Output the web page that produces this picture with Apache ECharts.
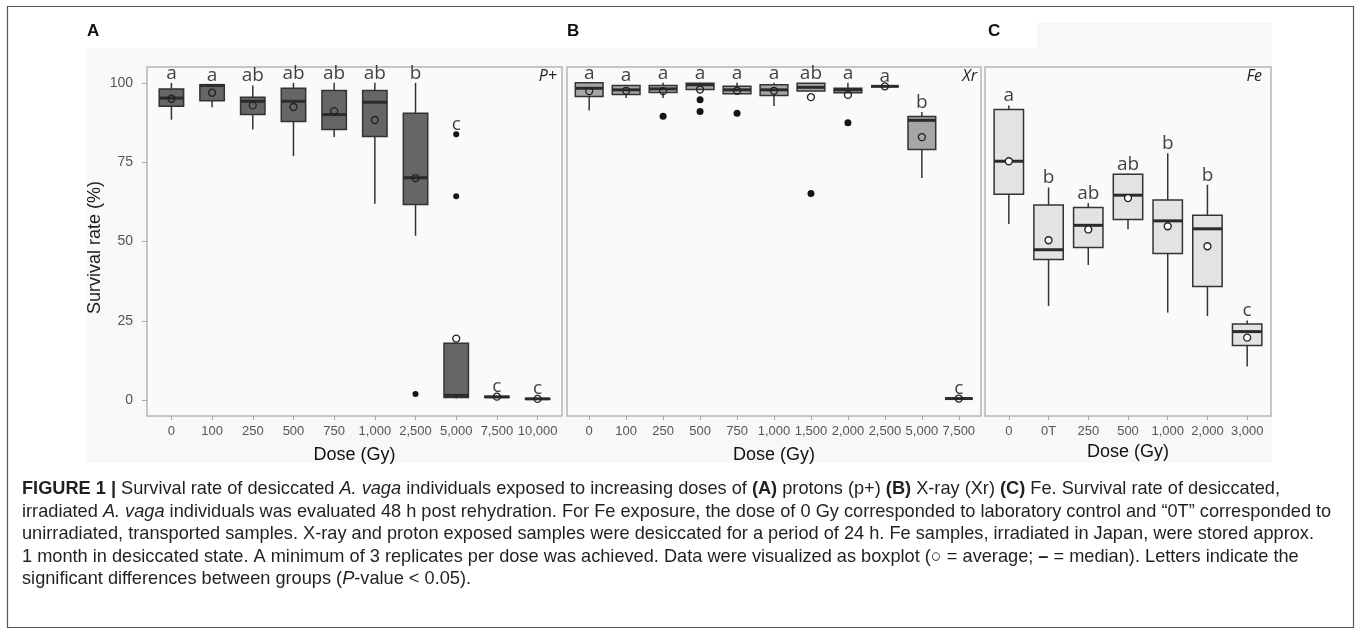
<!DOCTYPE html>
<html>
<head>
<meta charset="utf-8">
<script src="https://cdn.jsdelivr.net/npm/echarts@6.0.0/dist/echarts.min.js"></script>
<style>
  html, body { margin: 0; padding: 0; background: #ffffff; }
  #chart { width: 1357px; height: 633px; }
</style>
</head>
<body>
<div id="chart"></div>
<script>
// ---- data ----
// box rows: [lower whisker, Q1, median, Q3, upper whisker]
const dosesA = ['0', '100', '250', '500', '750', '1,000', '2,500', '5,000', '7,500', '10,000'];
const boxesA = [
  [88.4, 92.6, 95.2, 98.1, 100],
  [92.3, 94.4, 99.2, 99.4, 99.4],
  [85.3, 90.0, 94.2, 95.5, 99.2],
  [76.9, 87.8, 94.2, 98.3, 100],
  [82.9, 85.3, 90.0, 97.6, 100],
  [61.9, 83.1, 93.9, 97.6, 100],
  [51.8, 61.7, 70.1, 90.4, 100],
  [0.5, 0.8, 1.5, 17.9, 17.9],
  [0.8, 0.9, 1.0, 1.2, 1.3],
  [0.2, 0.3, 0.4, 0.5, 0.6]
];
const meansA = [95.0, 96.9, 92.9, 92.4, 91.1, 88.3, 70.0, 19.4, 1.1, 0.4];
const outliersA = [[6, 1.9], [7, 83.8], [7, 64.3]];
const lettersA = ['a', 'a', 'ab', 'ab', 'ab', 'ab', 'b', 'c', 'c', 'c'];

const dosesB = ['0', '100', '250', '500', '750', '1,000', '1,500', '2,000', '2,500', '5,000', '7,500'];
const boxesB = [
  [91.3, 95.7, 98.3, 100, 100],
  [95.2, 96.3, 97.8, 99.2, 99.2],
  [95.2, 97.0, 98.1, 99.2, 100],
  [97.9, 97.9, 99.4, 99.9, 100],
  [96.6, 96.6, 97.8, 98.9, 100],
  [92.7, 96.0, 97.8, 99.4, 100],
  [97.4, 97.4, 98.6, 99.9, 99.9],
  [96.9, 96.9, 97.8, 98.3, 100],
  [98.9, 98.9, 98.9, 98.9, 98.9],
  [70.0, 79.0, 88.2, 89.4, 90.8],
  [0.5, 0.5, 0.5, 0.5, 0.5]
];
const meansB = [97.4, 97.5, 97.4, 97.9, 97.5, 97.5, 95.5, 96.2, 98.9, 82.9, 0.5];
const outliersB = [[2, 89.5], [3, 94.7], [3, 91.0], [4, 90.4], [6, 65.1], [7, 87.4]];
const lettersB = ['a', 'a', 'a', 'a', 'a', 'a', 'ab', 'a', 'a', 'b', 'c'];

const dosesC = ['0', '0T', '250', '500', '1,000', '2,000', '3,000'];
const boxesC = [
  [55.5, 64.9, 75.3, 91.6, 92.9],
  [29.7, 44.3, 47.4, 61.5, 67.0],
  [42.6, 48.1, 55.1, 60.7, 62.1],
  [53.9, 56.9, 64.6, 71.2, 71.4],
  [27.6, 46.2, 56.5, 63.1, 77.8],
  [26.5, 35.8, 54.0, 58.3, 67.9],
  [10.6, 17.2, 21.6, 24.0, 25.1]
];
const meansC = [75.3, 50.4, 53.8, 63.7, 54.8, 48.5, 19.7];
const outliersC = [];
const lettersC = ['a', 'b', 'ab', 'ab', 'b', 'b', 'c'];

const yTicks = [0, 25, 50, 75, 100];

// ---- drawing ----
const axisFont = "'Liberation Sans', Arial, sans-serif";
const letterFont = "'Open Sans', 'Noto Sans', sans-serif";

const panels = [
  { doses: dosesA, boxes: boxesA, means: meansA, outliers: outliersA, letters: lettersA,
    grid: { left: 147, top: 67, width: 415, height: 349 }, boxW: 0.6, fill: '#666666',
    meanFill: 'rgba(0,0,0,0)', dot: 6, nameGap: 30 },
  { doses: dosesB, boxes: boxesB, means: meansB, outliers: outliersB, letters: lettersB,
    grid: { left: 567, top: 67, width: 414, height: 349 }, boxW: 0.75, fill: '#a6a6a6',
    meanFill: 'rgba(0,0,0,0)', dot: 7, nameGap: 30 },
  { doses: dosesC, boxes: boxesC, means: meansC, outliers: outliersC, letters: lettersC,
    grid: { left: 985, top: 67, width: 286, height: 349 }, boxW: 0.74, fill: '#e3e3e3',
    meanFill: '#ffffff', dot: 7, nameGap: 24 }
];

function boxRenderer(width, fill) {
  return function (params, api) {
    const x = api.value(0);
    const lo = api.coord([x, api.value(1)]);
    const q1 = api.coord([x, api.value(2)]);
    const md = api.coord([x, api.value(3)]);
    const q3 = api.coord([x, api.value(4)]);
    const hi = api.coord([x, api.value(5)]);
    const w = api.size([width, 0])[0];
    const stroke = '#333333';
    return {
      type: 'group',
      children: [
        { type: 'line', shape: { x1: lo[0], y1: lo[1], x2: q1[0], y2: q1[1] }, style: { stroke: stroke, lineWidth: 1.5 } },
        { type: 'line', shape: { x1: q3[0], y1: q3[1], x2: hi[0], y2: hi[1] }, style: { stroke: stroke, lineWidth: 1.5 } },
        { type: 'rect', shape: { x: q3[0] - w / 2, y: q3[1], width: w, height: q1[1] - q3[1] },
          style: { fill: fill, stroke: stroke, lineWidth: 1.5 } },
        { type: 'line', shape: { x1: md[0] - w / 2, y1: md[1], x2: md[0] + w / 2, y2: md[1] },
          style: { stroke: '#2b2b2b', lineWidth: 3 } }
      ]
    };
  };
}

const grids = [], xAxes = [], yAxes = [], series = [];
panels.forEach(function (p, k) {
  const n = p.doses.length;
  const idx = p.doses.map(function (d, i) { return i; });
  grids.push(Object.assign({ show: true, backgroundColor: '#fafafa', borderColor: '#b5b5b5', borderWidth: 1.5 }, p.grid));
  xAxes.push({
    type: 'value', gridIndex: k, min: -0.6, max: n - 0.4,
    axisLine: { show: false, onZero: false }, splitLine: { show: false },
    axisTick: { show: true, customValues: idx, length: 4, lineStyle: { color: '#a8a8a8' } },
    axisLabel: { customValues: idx, formatter: function (v) { return p.doses[Math.round(v)]; },
      margin: 9, fontSize: 13, color: '#555555', fontFamily: axisFont },
    name: 'Dose (Gy)', nameLocation: 'middle', nameGap: p.nameGap,
    nameTextStyle: { fontSize: 18, color: '#111111', fontFamily: axisFont }
  });
  yAxes.push({
    type: 'value', gridIndex: k, min: -5, max: 105, show: k === 0,
    axisLine: { show: false, onZero: false }, splitLine: { show: false },
    axisTick: { show: true, customValues: yTicks, length: 5, lineStyle: { color: '#a8a8a8' } },
    axisLabel: { customValues: yTicks, margin: 14, fontSize: 14, color: '#555555', fontFamily: axisFont },
    name: k === 0 ? 'Survival rate (%)' : '', nameLocation: 'middle', nameGap: 43, nameRotate: 90,
    nameTextStyle: { fontSize: 18, color: '#222222', fontFamily: axisFont, padding: [0, 12, 0, 0] }
  });

  series.push({
    type: 'custom', xAxisIndex: k, yAxisIndex: k,
    renderItem: boxRenderer(p.boxW, p.fill),
    encode: { x: 0, y: [1, 2, 3, 4, 5] },
    data: p.boxes.map(function (b, i) { return [i].concat(b); }),
    z: 2
  });
  series.push({
    type: 'scatter', xAxisIndex: k, yAxisIndex: k, symbolSize: p.dot,
    itemStyle: { color: '#151515', opacity: 1 },
    data: p.outliers, z: 3
  });
  series.push({
    type: 'scatter', xAxisIndex: k, yAxisIndex: k, symbolSize: 7,
    itemStyle: { color: p.meanFill, borderColor: '#222222', borderWidth: 1.3, opacity: 1 },
    data: p.means.map(function (m, i) { return [i, m]; }), z: 4
  });
  const tops = p.boxes.map(function (b, i) {
    let t = Math.max(b[4], p.means[i]);
    p.outliers.forEach(function (o) { if (o[0] === i) t = Math.max(t, o[1]); });
    return [i, t];
  });
  series.push({
    type: 'scatter', xAxisIndex: k, yAxisIndex: k, symbolSize: 0, silent: true,
    label: { show: true, position: 'top', distance: 0, fontSize: 19, color: '#111111', fontFamily: letterFont,
      formatter: function (prm) { return p.letters[prm.dataIndex]; } },
    data: tops, z: 5
  });
});

const capStyle = { fontSize: 18.2, fontFamily: axisFont, fill: '#231f20' };
const captionText = [
  '{b|FIGURE 1 |} Survival rate of desiccated {i|A. vaga} individuals exposed to increasing doses of {b|(A)} protons (p+) {b|(B)} X-ray (Xr) {b|(C)} Fe. Survival rate of desiccated,',
  'irradiated {i|A. vaga} individuals was evaluated 48 h post rehydration. For Fe exposure, the dose of 0 Gy corresponded to laboratory control and \u201c0T\u201d corresponded to',
  'unirradiated, transported samples. X-ray and proton exposed samples were desiccated for a period of 24 h. Fe samples, irradiated in Japan, were stored approx.',
  '1 month in desiccated state. A minimum of 3 replicates per dose was achieved. Data were visualized as boxplot (\u25CB = average; {b|\u2013} = median). Letters indicate the',
  'significant differences between groups ({i|P}-value < 0.05).'
].join('\n');

const chart = echarts.init(document.getElementById('chart'));
chart.setOption({
  animation: false,
  backgroundColor: '#ffffff',
  grid: grids,
  xAxis: xAxes,
  yAxis: yAxes,
  series: series,
  graphic: [
    { type: 'rect', z: -10, shape: { x: 87, y: 48, width: 1185, height: 415 }, style: { fill: '#f8f8f8' } },
    { type: 'rect', z: -10, shape: { x: 1037, y: 23, width: 235, height: 25 }, style: { fill: '#f8f8f8' } },
    { type: 'rect', z: -9, shape: { x: 7.5, y: 6.5, width: 1346, height: 621 }, style: { fill: 'none', stroke: '#555555', lineWidth: 1.2 } },
    { type: 'text', left: 87, top: 23, style: { text: 'A', fontSize: 17, fontWeight: 'bold', fontFamily: axisFont, fill: '#111' } },
    { type: 'text', left: 567, top: 23, style: { text: 'B', fontSize: 17, fontWeight: 'bold', fontFamily: axisFont, fill: '#111' } },
    { type: 'text', left: 988, top: 23, style: { text: 'C', fontSize: 17, fontWeight: 'bold', fontFamily: axisFont, fill: '#111' } },
    { type: 'text', right: 1357 - 557, top: 68, style: { text: 'P+', fontSize: 16, fontStyle: 'italic', fontFamily: letterFont, fill: '#222' } },
    { type: 'text', right: 1357 - 977, top: 68, style: { text: 'Xr', fontSize: 16, fontStyle: 'italic', fontFamily: letterFont, fill: '#222' } },
    { type: 'text', right: 1357 - 1262, top: 68, style: { text: 'Fe', fontSize: 16, fontStyle: 'italic', fontFamily: letterFont, fill: '#222' } },
    { type: 'text', left: 22, top: 478, style: Object.assign({
        text: captionText, lineHeight: 22.5,
        rich: {
          b: Object.assign({ fontWeight: 'bold', lineHeight: 22.5 }, capStyle),
          i: Object.assign({ fontStyle: 'italic', lineHeight: 22.5 }, capStyle)
        }
      }, capStyle) }
  ]
});
</script>
</body>
</html>
